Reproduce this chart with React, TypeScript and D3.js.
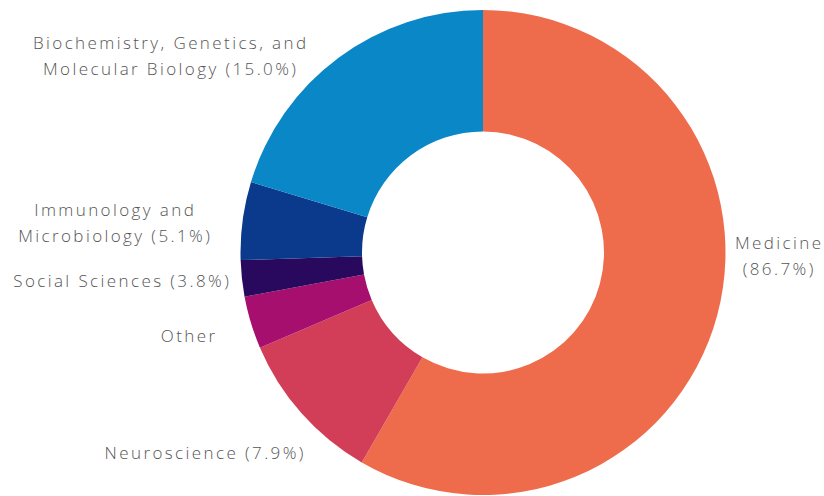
import React from "react";
import * as d3 from "d3";

// Slice order runs clockwise from 12 o'clock
const categories = [
  "Medicine",
  "Neuroscience",
  "Other",
  "Social Sciences",
  "Immunology and Microbiology",
  "Biochemistry, Genetics, and Molecular Biology",
];
// relative slice sizes
const sliceValues = [210, 36.9, 12.6, 8.7, 18.7, 73.1];
// label text lines (percentages as printed)
const labelLines = [
  ["Medicine", "(86.7%)"],
  ["Neuroscience (7.9%)"],
  ["Other"],
  ["Social Sciences (3.8%)"],
  ["Immunology and", "Microbiology (5.1%)"],
  ["Biochemistry, Genetics, and", "Molecular Biology (15.0%)"],
];
const colors = ["#EE6C4B", "#D23E58", "#A60F6E", "#28095E", "#0B3A8D", "#0987C7"];

// label placement (centre x, first baseline y) — layout, not data
const labelLayout = [
  [778, 248.5],
  [204, 458.5],
  [188, 341.5],
  [121, 286.5],
  [114, 215.5],
  [169.5, 48.5],
];

const W = 824;
const H = 496;
const CX = 483;
const CY = 252.5;
const R_OUT = 242.5;
const R_IN = 121;
const LINE_H = 26;
const LS = 2.4;

export default function App() {
  const pie = d3
    .pie<number>()
    .sort(null)
    .value((d) => d)
    .startAngle(0)
    .endAngle(2 * Math.PI);
  const arcs = pie(sliceValues);
  const arcGen = d3.arc<d3.PieArcDatum<number>>().innerRadius(R_IN).outerRadius(R_OUT);

  return (
    <div style={{ position: "fixed", left: 0, top: 0, width: W, height: H, background: "#fff" }}>
      <svg width={W} height={H} style={{ display: "block" }}>
        <rect width={W} height={H} fill="#fff" />
        <g transform={`translate(${CX},${CY})`}>
          {arcs.map((a, i) => (
            <path key={categories[i]} d={arcGen(a) || ""} fill={colors[i]} />
          ))}
        </g>
        <g
          fontFamily="'Open Sans', sans-serif"
          fontSize={17}
          fontWeight={300}
          fill="#555555"
          textAnchor="middle"
          letterSpacing={LS}
        >
          {labelLines.map((lines, i) => {
            const x = labelLayout[i][0] + LS / 2;
            return (
              <text key={categories[i]} x={x} y={labelLayout[i][1]}>
                {lines.map((ln, j) => (
                  <tspan key={j} x={x} y={labelLayout[i][1] + j * LINE_H}>
                    {ln}
                  </tspan>
                ))}
              </text>
            );
          })}
        </g>
      </svg>
    </div>
  );
}
